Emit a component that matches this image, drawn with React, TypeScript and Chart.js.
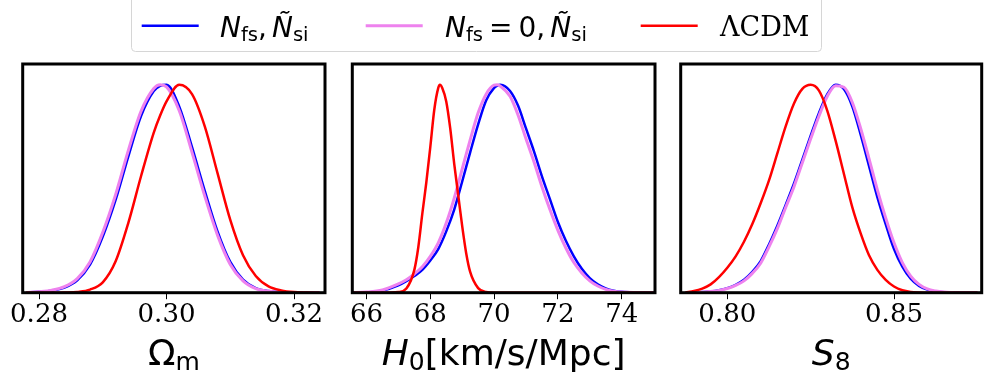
import React, { useEffect, useRef } from "react";
import { Chart, registerables } from "chart.js";
Chart.register(...registerables);

// ---------- data (normalised 1D posteriors) ----------
const SERIES = ["N_fs, Ñ_si", "N_fs = 0, Ñ_si", "ΛCDM"];

// Panel 1: Omega_m
const omX = [0.278, 0.28, 0.282, 0.284, 0.286, 0.288, 0.29, 0.292, 0.294, 0.296, 0.298, 0.299, 0.3, 0.302, 0.304, 0.306, 0.308, 0.31, 0.312, 0.314, 0.316, 0.318, 0.32, 0.322, 0.324];
const omFull = [0.001, 0.004, 0.01, 0.025, 0.06, 0.135, 0.27, 0.445, 0.655, 0.85, 0.97, 0.995, 1.0, 0.895, 0.7, 0.49, 0.295, 0.148, 0.063, 0.022, 0.008, 0.003, 0.001, 0, 0];
const omNoFs = [0.001, 0.005, 0.012, 0.029, 0.068, 0.148, 0.29, 0.47, 0.683, 0.872, 0.982, 1.0, 0.99, 0.875, 0.675, 0.465, 0.277, 0.136, 0.057, 0.02, 0.007, 0.002, 0.001, 0, 0];
const omLcdm = [0, 0, 0, 0.001, 0.004, 0.015, 0.05, 0.15, 0.335, 0.56, 0.77, 0.852, 0.92, 1.0, 0.955, 0.8, 0.575, 0.35, 0.18, 0.08, 0.03, 0.011, 0.003, 0.001, 0];
const omTicks = [0.28, 0.3, 0.32];

// Panel 2: H0
const h0X = [65.5, 66.0, 66.5, 67.0, 67.25, 67.5, 67.75, 68.0, 68.25, 68.5, 68.75, 69.0, 69.25, 69.5, 69.75, 70.0, 70.1, 70.2, 70.5, 70.75, 71.0, 71.25, 71.5, 71.75, 72.0, 72.25, 72.5, 72.75, 73.0, 73.25, 73.5, 73.75, 74.0, 74.5, 75.0];
const h0Full = [0, 0.002, 0.01, 0.035, 0.055, 0.08, 0.11, 0.155, 0.21, 0.295, 0.4, 0.535, 0.675, 0.81, 0.925, 0.985, 0.996, 1.0, 0.97, 0.9, 0.79, 0.68, 0.56, 0.45, 0.34, 0.25, 0.175, 0.115, 0.07, 0.04, 0.021, 0.01, 0.004, 0.001, 0];
const h0NoFs = [0, 0.003, 0.013, 0.042, 0.062, 0.09, 0.125, 0.175, 0.24, 0.335, 0.455, 0.595, 0.735, 0.865, 0.955, 0.998, 1.0, 0.993, 0.945, 0.855, 0.74, 0.63, 0.51, 0.4, 0.3, 0.215, 0.145, 0.095, 0.057, 0.032, 0.016, 0.007, 0.003, 0.001, 0];
const h0LcdmX = [65.5, 66.5, 67.0, 67.25, 67.5, 67.625, 67.75, 67.875, 68.0, 68.125, 68.25, 68.3, 68.375, 68.5, 68.625, 68.75, 68.875, 69.0, 69.125, 69.25, 69.5, 69.75, 70.0, 71.0, 75.0];
const h0Lcdm = [0, 0, 0.003, 0.02, 0.11, 0.22, 0.38, 0.53, 0.7, 0.88, 0.985, 1.0, 0.985, 0.92, 0.79, 0.62, 0.47, 0.32, 0.19, 0.1, 0.022, 0.003, 0, 0, 0];
const h0Ticks = [66, 68, 70, 72, 74];

// Panel 3: S8
const s8X = [0.7875, 0.79, 0.7925, 0.795, 0.7975, 0.8, 0.8025, 0.805, 0.8075, 0.81, 0.8125, 0.815, 0.8175, 0.82, 0.8225, 0.825, 0.8275, 0.83, 0.8325, 0.835, 0.8375, 0.84, 0.8425, 0.845, 0.8475, 0.85, 0.8525, 0.855, 0.8575, 0.86, 0.8625, 0.865, 0.8675, 0.87, 0.8725, 0.875];
const s8Full = [0, 0.001, 0.003, 0.006, 0.012, 0.022, 0.038, 0.062, 0.1, 0.152, 0.232, 0.322, 0.422, 0.525, 0.64, 0.755, 0.865, 0.955, 1.0, 0.978, 0.895, 0.76, 0.61, 0.46, 0.33, 0.21, 0.125, 0.067, 0.033, 0.015, 0.006, 0.002, 0.001, 0, 0, 0];
const s8NoFs = [0, 0.001, 0.002, 0.006, 0.011, 0.02, 0.035, 0.057, 0.093, 0.142, 0.22, 0.308, 0.41, 0.51, 0.625, 0.74, 0.85, 0.945, 0.995, 0.988, 0.915, 0.79, 0.645, 0.495, 0.36, 0.24, 0.145, 0.08, 0.04, 0.018, 0.008, 0.003, 0.001, 0, 0, 0];
const s8Lcdm = [0.002, 0.008, 0.02, 0.04, 0.075, 0.12, 0.175, 0.245, 0.33, 0.43, 0.54, 0.67, 0.8, 0.91, 0.98, 1.0, 0.972, 0.875, 0.73, 0.57, 0.41, 0.285, 0.18, 0.11, 0.062, 0.03, 0.012, 0.004, 0.001, 0, 0, 0, 0, 0, 0, 0];
const s8Ticks = [0.8, 0.85];

// ---------- styling ----------
const BLUE = "#0000ff";
const VIOLET = "#ee82ee";
const RED = "#ff0000";
const SANS = '"DejaVu Sans"';
const SERIF = '"DejaVu Serif"';
const CANVAS_TOP = 55;
const CANVAS_H = 327;
const PAD_TOP = 9;
const AXIS_H = 89.3;

type Part = { t: string; font: string; dy?: number; gap?: number };

function drawParts(ctx: CanvasRenderingContext2D, parts: Part[], x: number, y: number, align: "left" | "center") {
  ctx.textBaseline = "alphabetic";
  ctx.textAlign = "left";
  const widths = parts.map((p) => {
    ctx.font = p.font;
    return ctx.measureText(p.t).width;
  });
  const total = widths.reduce((a, b) => a + b, 0) + parts.reduce((a, p) => a + (p.gap || 0), 0);
  let cx = align === "center" ? x - total / 2 : x;
  parts.forEach((p, i) => {
    cx += p.gap || 0;
    ctx.font = p.font;
    ctx.fillText(p.t, cx, y + (p.dy || 0));
    cx += widths[i];
  });
}

const TITLE_F = 36;
const TITLE_SUB = 25;
const titleOm: Part[] = [
  { t: "Ω", font: `${TITLE_F}px ${SANS}` },
  { t: "m", font: `${TITLE_SUB}px ${SANS}`, dy: 5 },
];
const titleH0: Part[] = [
  { t: "H", font: `italic ${TITLE_F}px ${SANS}` },
  { t: "0", font: `${TITLE_SUB}px ${SANS}`, dy: 5 },
  { t: "[km/s/Mpc]", font: `${TITLE_F}px ${SANS}` },
];
const titleS8: Part[] = [
  { t: "S", font: `italic ${TITLE_F}px ${SANS}` },
  { t: "8", font: `${TITLE_SUB}px ${SANS}`, dy: 5 },
];

type Series = { label: string; x: number[]; y: number[]; color: string; width: number; order: number };

function Panel(props: {
  left: number;
  width: number;
  padLeft: number;
  padRight: number;
  xMin: number;
  xMax: number;
  ticks: number[];
  decimals: number;
  series: Series[];
  title: Part[];
}) {
  const ref = useRef<HTMLCanvasElement>(null);
  useEffect(() => {
    if (!ref.current) return;
    const { title, ticks, decimals } = props;
    const framePlugin = {
      id: "frame",
      afterDraw(chart: any) {
        const ctx = chart.ctx as CanvasRenderingContext2D;
        const a = chart.chartArea;
        ctx.save();
        ctx.strokeStyle = "#000";
        ctx.lineWidth = 3;
        ctx.strokeRect(a.left, a.top, a.right - a.left, a.bottom - a.top);
        ctx.fillStyle = "#000";
        drawParts(ctx, title, (a.left + a.right) / 2, 310, "center");
        ctx.restore();
      },
    };
    const chart = new Chart(ref.current, {
      type: "line",
      data: {
        datasets: props.series.map((s) => ({
          label: s.label,
          data: s.x.map((x, i) => ({ x, y: s.y[i] })),
          borderColor: s.color,
          backgroundColor: s.color,
          borderWidth: s.width,
          pointRadius: 0,
          fill: false,
          cubicInterpolationMode: "monotone" as const,
          order: s.order,
        })),
      },
      options: {
        animation: false,
        responsive: false,
        devicePixelRatio: 1,
        events: [],
        layout: { padding: { left: props.padLeft, right: props.padRight, top: PAD_TOP, bottom: 0 } },
        plugins: { legend: { display: false }, tooltip: { enabled: false } },
        scales: {
          x: {
            type: "linear",
            min: props.xMin,
            max: props.xMax,
            afterBuildTicks: (s: any) => {
              s.ticks = ticks.map((v) => ({ value: v }));
            },
            afterFit: (s: any) => {
              s.height = AXIS_H;
              s.paddingLeft = 0;
              s.paddingRight = 0;
            },
            ticks: {
              font: { family: "DejaVu Serif", size: 26 },
              color: "#000",
              padding: 0,
              maxRotation: 0,
              autoSkip: false,
              callback: (v: any) => Number(v).toFixed(decimals),
            },
            grid: { display: true, drawOnChartArea: false, drawTicks: true, tickLength: 6.5, color: "#000", lineWidth: 1 },
            border: { display: false },
          },
          y: { display: false, min: 0, max: 1.1 },
        },
      },
      plugins: [framePlugin],
    } as any);
    return () => chart.destroy();
  }, []);
  return (
    <canvas
      ref={ref}
      width={props.width}
      height={CANVAS_H}
      style={{ position: "absolute", left: props.left, top: CANVAS_TOP, width: props.width, height: CANVAS_H }}
    />
  );
}

function Legend() {
  const ref = useRef<HTMLCanvasElement>(null);
  useEffect(() => {
    const c = ref.current;
    if (!c) return;
    const ctx = c.getContext("2d")!;
    ctx.clearRect(0, 0, c.width, c.height);
    const ox = 125;
    ctx.save();
    ctx.strokeStyle = "#d6d6d6";
    ctx.lineWidth = 1;
    const x0 = 131.5 - ox, x1 = 821.5 - ox, y0 = -4, y1 = 51.5, r = 4;
    ctx.beginPath();
    ctx.moveTo(x0 + r, y0);
    ctx.lineTo(x1 - r, y0);
    ctx.quadraticCurveTo(x1, y0, x1, y0 + r);
    ctx.lineTo(x1, y1 - r);
    ctx.quadraticCurveTo(x1, y1, x1 - r, y1);
    ctx.lineTo(x0 + r, y1);
    ctx.quadraticCurveTo(x0, y1, x0, y1 - r);
    ctx.lineTo(x0, y0 + r);
    ctx.quadraticCurveTo(x0, y0, x0 + r, y0);
    ctx.closePath();
    ctx.fillStyle = "#fff";
    ctx.fill();
    ctx.stroke();
    const lineY = 25.7;
    const handles: [number, string, number][] = [
      [141.7, BLUE, 2.5],
      [365.7, VIOLET, 3],
      [640.7, RED, 2.5],
    ];
    handles.forEach(([hx, col, w]) => {
      ctx.strokeStyle = col;
      ctx.lineWidth = w;
      ctx.beginPath();
      ctx.moveTo(hx - ox, lineY);
      ctx.lineTo(hx + 57 - ox, lineY);
      ctx.stroke();
    });
    ctx.fillStyle = "#000";
    const F = 28;
    const SF = 19.6;
    const base = 36.7;
    const it = `italic ${F}px ${SANS}`;
    const up = `${F}px ${SANS}`;
    const sub = `${SF}px ${SANS}`;
    drawParts(ctx, [
      { t: "N", font: it },
      { t: "fs", font: sub, dy: 4 },
      { t: ",", font: up },
      { t: "Ñ", font: it, gap: 5 },
      { t: "si", font: sub, dy: 4 },
    ], 220 - ox, base, "left");
    drawParts(ctx, [
      { t: "N", font: it },
      { t: "fs", font: sub, dy: 4 },
      { t: "=", font: up, gap: 6 },
      { t: "0", font: up, gap: 6 },
      { t: ",", font: up },
      { t: "Ñ", font: it, gap: 5 },
      { t: "si", font: sub, dy: 4 },
    ], 445 - ox, base, "left");
    drawParts(ctx, [{ t: "ΛCDM", font: `27px ${SERIF}` }], 720 - ox, base - 1, "left");
    ctx.restore();
  }, []);
  return <canvas ref={ref} width={710} height={56} style={{ position: "absolute", left: 125, top: 0, width: 710, height: 56 }} />;
}

export default function App() {
  const mk = (x: number[], full: number[], noFs: number[], lx: number[], lcdm: number[]): Series[] => [
    { label: SERIES[0], x, y: full, color: BLUE, width: 2.5, order: 2 },
    { label: SERIES[1], x, y: noFs, color: VIOLET, width: 3, order: 1 },
    { label: SERIES[2], x: lx, y: lcdm, color: RED, width: 2.5, order: 0 },
  ];
  return (
    <div style={{ position: "absolute", left: 0, top: 0, width: 984, height: 382, background: "#fff", overflow: "hidden" }}>
      <Panel left={0} width={345} padLeft={22.7} padRight={20} xMin={0.27744} xMax={0.32486} ticks={omTicks} decimals={2}
        series={mk(omX, omFull, omNoFs, omX, omLcdm)} title={titleOm} />
      <Panel left={335} width={340} padLeft={17.3} padRight={20} xMin={65.555} xMax={75.044} ticks={h0Ticks} decimals={0}
        series={mk(h0X, h0Full, h0NoFs, h0LcdmX, h0Lcdm)} title={titleH0} />
      <Panel left={662} width={322} padLeft={18.7} padRight={2.3} xMin={0.78602} xMax={0.8763} ticks={s8Ticks} decimals={2}
        series={mk(s8X, s8Full, s8NoFs, s8X, s8Lcdm)} title={titleS8} />
      <Legend />
    </div>
  );
}
